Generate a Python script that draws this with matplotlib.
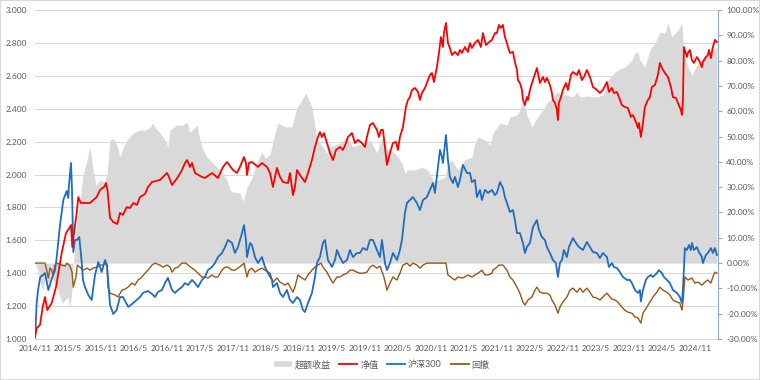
import matplotlib.pyplot as plt
import numpy as np
from matplotlib.lines import Line2D
from matplotlib.patches import Rectangle
from matplotlib.ticker import FuncFormatter

plt.rcParams['font.family'] = ['Lato', 'Noto Sans CJK SC', 'DejaVu Sans']

# x = months since 2014/11
# 净值 (left axis)
red = [(0, 1.012), (0.31, 1.067), (0.91, 1.085), (1.40, 1.195), (1.82, 1.255), (2.24, 1.176), (3.04, 1.219),
       (3.82, 1.316), (4.42, 1.438), (4.85, 1.523), (5.64, 1.644), (6.36, 1.681), (6.55, 1.693), (6.78, 1.559),
       (7.09, 1.644), (7.58, 1.766), (7.87, 1.863), (8.31, 1.827), (10.0, 1.827), (11.22, 1.863), (11.82, 1.906),
       (12.55, 1.924), (12.91, 1.948), (13.18, 1.906), (13.64, 1.736), (14.24, 1.711), (14.96, 1.699),
       (15.45, 1.766), (16.0, 1.754), (16.67, 1.802), (17.27, 1.796), (17.87, 1.827), (18.55, 1.815),
       (19.09, 1.863), (20.0, 1.881), (20.55, 1.924), (21.27, 1.954), (22.73, 1.967), (24.0, 2.009),
       (24.36, 1.985), (24.91, 1.936), (26.0, 1.985), (26.73, 2.027), (27.27, 2.070), (27.64, 2.088),
       (28.18, 2.046), (28.55, 2.070), (29.09, 2.009), (30.36, 1.985), (30.91, 1.979), (32.18, 2.009),
       (33.27, 1.979), (34.18, 2.046), (34.91, 2.076), (36.0, 2.027), (36.73, 2.009), (37.27, 2.046),
       (38.0, 2.106), (38.36, 2.070), (38.55, 1.997), (38.91, 2.070), (39.45, 2.076), (40.55, 2.046),
       (41.27, 2.070), (42.18, 2.046), (42.73, 2.009), (43.27, 1.924), (43.64, 1.985), (44.0, 2.040),
       (44.55, 1.985), (45.09, 1.954), (46.0, 1.948), (46.36, 2.009), (46.91, 1.875), (47.27, 1.924),
       (47.64, 2.027), (48.18, 1.997), (49.09, 1.954), (49.64, 2.009), (50.36, 2.088), (50.91, 2.167),
       (51.45, 2.228), (51.82, 2.258), (52.18, 2.228), (52.55, 2.252), (53.09, 2.191), (53.64, 2.131),
       (54.18, 2.088), (54.73, 2.149), (55.45, 2.167), (56.0, 2.149), (56.55, 2.191), (56.91, 2.228),
       (57.64, 2.252), (58.18, 2.191), (58.73, 2.210), (59.45, 2.191), (60.0, 2.167), (60.36, 2.228),
       (60.91, 2.301), (61.45, 2.313), (62.18, 2.271), (62.55, 2.228), (62.91, 2.271), (63.27, 2.271),
       (63.64, 2.167), (64.0, 2.058), (64.55, 2.131), (65.09, 2.191), (65.64, 2.198), (66.0, 2.149),
       (66.36, 2.228), (66.91, 2.289), (67.45, 2.410), (67.82, 2.453), (68.18, 2.471), (68.55, 2.514),
       (69.09, 2.526), (69.64, 2.502), (70.0, 2.453), (70.36, 2.495), (70.91, 2.526), (71.45, 2.574),
       (71.82, 2.605), (72.18, 2.617), (72.55, 2.562), (73.09, 2.653), (73.45, 2.739), (73.82, 2.836),
       (74.18, 2.775), (74.36, 2.860), (74.73, 2.921), (75.09, 2.799), (75.45, 2.769), (75.82, 2.726),
       (76.36, 2.745), (76.91, 2.726), (77.27, 2.757), (77.64, 2.739), (78.18, 2.775), (78.73, 2.745),
       (79.09, 2.799), (79.45, 2.769), (80.0, 2.799), (80.55, 2.818), (81.09, 2.775), (81.45, 2.860),
       (82.0, 2.787), (82.36, 2.799), (83.09, 2.818), (83.64, 2.860), (84.0, 2.860), (84.36, 2.909),
       (84.73, 2.891), (85.09, 2.909), (85.45, 2.836), (85.82, 2.799), (86.0, 2.775), (86.36, 2.739),
       (86.91, 2.745), (87.27, 2.684), (87.64, 2.635), (87.82, 2.574), (88.18, 2.556), (88.55, 2.514),
       (88.73, 2.453), (89.09, 2.422), (89.45, 2.471), (89.64, 2.453), (90.0, 2.514), (90.55, 2.574),
       (91.27, 2.647), (91.45, 2.617), (91.82, 2.556), (92.36, 2.593), (92.73, 2.562), (93.09, 2.587),
       (93.64, 2.544), (94.0, 2.495), (94.18, 2.453), (94.55, 2.435), (94.91, 2.392), (95.09, 2.331),
       (95.27, 2.435), (95.64, 2.471), (96.0, 2.514), (96.55, 2.556), (96.91, 2.514), (97.45, 2.605),
       (97.82, 2.623), (98.55, 2.605), (98.91, 2.635), (99.45, 2.574), (99.82, 2.593), (100.36, 2.635),
       (100.91, 2.593), (101.45, 2.532), (102.18, 2.514), (102.73, 2.495), (103.27, 2.514), (104.0, 2.562),
       (104.36, 2.502), (104.91, 2.526), (105.27, 2.495), (105.82, 2.502), (106.18, 2.471), (106.73, 2.422),
       (107.27, 2.410), (107.82, 2.404), (108.36, 2.350), (108.73, 2.362), (109.27, 2.319), (109.64, 2.283),
       (109.82, 2.313), (110.18, 2.228), (110.55, 2.313), (110.91, 2.410), (111.45, 2.453), (111.82, 2.471),
       (112.18, 2.532), (112.73, 2.544), (113.27, 2.605), (113.64, 2.678), (114.0, 2.647), (114.55, 2.617),
       (115.09, 2.593), (115.64, 2.532), (116.0, 2.471), (116.55, 2.465), (116.91, 2.435), (117.45, 2.392),
       (117.64, 2.362), (117.82, 2.453), (118.0, 2.775), (118.55, 2.714), (118.73, 2.739), (119.09, 2.757),
       (119.45, 2.696), (119.82, 2.678), (120.36, 2.714), (120.73, 2.696), (121.27, 2.653), (121.45, 2.684),
       (122.0, 2.714), (122.36, 2.726), (122.55, 2.757), (122.91, 2.708), (123.27, 2.775), (123.64, 2.818),
       (124.0, 2.806)]

# 沪深300 (left axis)
hs300 = [(0, 1.006), (0.31, 1.219), (0.55, 1.298), (0.96, 1.377), (1.45, 1.389), (1.82, 1.401), (2.42, 1.298),
         (3.04, 1.365), (3.64, 1.419), (3.95, 1.498), (4.55, 1.693), (5.15, 1.845), (5.76, 1.900), (6.05, 1.857),
         (6.18, 1.936), (6.55, 2.070), (6.73, 1.906), (6.96, 1.529), (7.27, 1.602), (7.64, 1.602), (8.05, 1.620),
         (8.49, 1.468), (8.73, 1.359), (9.09, 1.316), (9.69, 1.267), (10.31, 1.237), (10.91, 1.389),
         (11.51, 1.468), (12.13, 1.407), (12.73, 1.480), (13.09, 1.450), (13.64, 1.207), (14.24, 1.152),
         (14.85, 1.176), (15.45, 1.255), (16.0, 1.255), (16.96, 1.195), (17.87, 1.219), (18.49, 1.237),
         (19.09, 1.255), (19.64, 1.280), (20.55, 1.292), (21.27, 1.274), (21.82, 1.255), (22.36, 1.286),
         (23.09, 1.298), (23.64, 1.340), (24.18, 1.371), (24.91, 1.298), (25.45, 1.280), (26.0, 1.298),
         (26.73, 1.316), (27.27, 1.340), (27.82, 1.328), (28.55, 1.359), (29.09, 1.340), (29.64, 1.316),
         (30.36, 1.359), (30.91, 1.377), (31.45, 1.419), (32.18, 1.438), (32.73, 1.462), (33.27, 1.498),
         (34.0, 1.523), (34.55, 1.559), (35.09, 1.602), (35.82, 1.584), (36.36, 1.523), (36.91, 1.559),
         (37.64, 1.644), (38.0, 1.693), (38.36, 1.602), (38.55, 1.498), (39.09, 1.584), (39.45, 1.571),
         (40.0, 1.498), (40.55, 1.462), (41.27, 1.498), (41.82, 1.438), (42.36, 1.401), (43.09, 1.359),
         (43.27, 1.316), (44.0, 1.340), (44.55, 1.280), (45.09, 1.255), (45.82, 1.298), (46.36, 1.237),
         (46.91, 1.219), (47.64, 1.255), (48.18, 1.237), (48.73, 1.176), (49.09, 1.164), (49.64, 1.219),
         (50.36, 1.280), (50.91, 1.377), (51.27, 1.462), (51.82, 1.498), (52.36, 1.584), (52.73, 1.602),
         (53.27, 1.480), (54.0, 1.438), (54.55, 1.480), (54.91, 1.541), (55.45, 1.498), (56.0, 1.462),
         (56.73, 1.480), (57.27, 1.541), (57.82, 1.498), (58.55, 1.523), (59.09, 1.523), (59.64, 1.553),
         (60.36, 1.541), (60.91, 1.602), (61.45, 1.602), (62.18, 1.541), (62.73, 1.498), (63.09, 1.602),
         (63.64, 1.462), (64.0, 1.419), (64.55, 1.462), (65.09, 1.523), (65.82, 1.480), (66.36, 1.541),
         (66.73, 1.602), (67.27, 1.766), (67.64, 1.827), (68.18, 1.845), (68.73, 1.863), (69.45, 1.827),
         (70.0, 1.784), (70.55, 1.845), (71.27, 1.863), (71.82, 1.906), (72.36, 1.948), (72.73, 1.888),
         (73.27, 2.046), (73.64, 2.149), (74.0, 2.106), (74.18, 2.070), (74.73, 2.240), (75.09, 2.088),
         (75.45, 1.985), (76.0, 1.948), (76.36, 1.985), (76.91, 1.924), (77.27, 1.967), (77.82, 2.058),
         (78.55, 2.009), (79.09, 2.009), (79.45, 1.954), (80.0, 1.967), (80.36, 1.863), (80.91, 1.906),
         (81.27, 1.845), (81.82, 1.906), (82.36, 1.888), (83.09, 1.906), (83.64, 1.875), (84.0, 1.888),
         (84.55, 1.954), (85.09, 1.918), (85.45, 1.863), (85.82, 1.827), (86.36, 1.772), (86.91, 1.784),
         (87.27, 1.723), (87.64, 1.644), (88.18, 1.644), (88.73, 1.584), (89.09, 1.523), (89.45, 1.559),
         (90.0, 1.584), (90.55, 1.681), (91.27, 1.723), (91.64, 1.663), (92.18, 1.620), (92.73, 1.602),
         (93.09, 1.559), (93.64, 1.523), (94.18, 1.480), (94.73, 1.462), (95.09, 1.377), (95.45, 1.462),
         (95.82, 1.480), (96.18, 1.541), (96.73, 1.498), (97.09, 1.559), (97.82, 1.614), (98.36, 1.584),
         (98.91, 1.559), (99.64, 1.541), (100.36, 1.590), (100.91, 1.559), (101.45, 1.529), (102.18, 1.523),
         (102.73, 1.492), (103.27, 1.523), (104.0, 1.498), (104.36, 1.438), (104.91, 1.462), (105.27, 1.438),
         (105.82, 1.432), (106.36, 1.407), (106.91, 1.377), (107.64, 1.359), (108.18, 1.359), (108.55, 1.340),
         (109.09, 1.298), (109.64, 1.280), (110.0, 1.298), (110.18, 1.228), (110.55, 1.298), (111.09, 1.359),
         (111.45, 1.377), (112.0, 1.389), (112.36, 1.377), (113.09, 1.401), (113.45, 1.419), (114.0, 1.401),
         (114.36, 1.377), (114.91, 1.359), (115.45, 1.340), (116.0, 1.298), (116.73, 1.280), (117.27, 1.255),
         (117.64, 1.219), (117.82, 1.298), (118.18, 1.553), (118.55, 1.541), (118.91, 1.571), (119.27, 1.541),
         (119.45, 1.584), (119.82, 1.541), (120.36, 1.559), (120.73, 1.529), (121.27, 1.498), (121.45, 1.462),
         (122.0, 1.511), (122.36, 1.523), (122.91, 1.553), (123.27, 1.523), (123.64, 1.553), (124.0, 1.511)]

# 回撤 (right axis, %)
drawdown = [(0, 0), (1.82, 0), (2.13, -2.8), (2.42, -5.9), (2.73, -2.0), (3.04, -2.8), (3.27, -4.7), (3.64, -0.8),
            (3.95, 0), (4.91, -0.8), (5.45, -1.2), (5.82, 0), (6.36, -1.2), (6.73, -3.6), (6.96, -9.5),
            (7.45, -5.5), (7.69, -0.8), (8.18, -1.6), (8.73, -2.8), (9.45, -2.0), (10.0, -2.8), (10.55, -2.0),
            (11.27, -1.6), (11.82, -0.8), (12.36, -0.8), (12.73, 0), (13.09, -1.2), (13.27, -9.5), (13.64, -11.9),
            (14.55, -12.6), (15.09, -13.4), (15.82, -10.7), (16.36, -10.3), (16.91, -9.5), (17.64, -7.9),
            (18.18, -8.7), (18.73, -6.7), (19.45, -5.5), (20.0, -4.0), (20.55, -2.8), (21.27, -0.8), (21.82, 0),
            (22.73, -0.8), (23.27, -1.6), (24.0, -0.8), (24.55, -1.6), (24.91, -3.6), (25.45, -2.0), (26.0, -1.6),
            (26.73, 0), (27.45, 0), (27.82, -0.8), (28.55, -2.0), (29.09, -2.8), (29.64, -4.0), (30.36, -5.5),
            (30.91, -5.5), (31.45, -5.9), (32.18, -4.7), (32.73, -5.5), (33.27, -5.5), (34.0, -2.8), (34.55, -1.6),
            (35.09, -1.6), (35.82, -2.8), (36.36, -2.8), (36.91, -2.0), (37.64, -0.8), (38.0, 0), (38.55, -5.5),
            (38.91, -2.8), (39.45, -2.0), (40.0, -3.6), (40.55, -2.8), (41.27, -2.0), (41.82, -2.8), (42.73, -4.0),
            (43.27, -7.5), (44.0, -5.9), (44.55, -7.5), (45.45, -8.7), (46.0, -7.9), (46.91, -11.5), (47.27, -9.5),
            (47.82, -4.7), (48.55, -5.9), (49.09, -6.7), (49.64, -4.7), (50.36, -2.8), (50.91, -1.6), (51.45, -0.8),
            (52.0, 0), (52.36, -1.6), (53.09, -3.6), (53.64, -5.9), (54.18, -7.9), (54.91, -5.5), (55.45, -5.5),
            (56.0, -4.7), (56.73, -4.0), (57.27, -2.8), (57.82, -2.8), (58.55, -3.6), (59.09, -4.0), (59.64, -4.0),
            (60.36, -3.6), (60.91, -1.6), (61.45, -0.8), (62.18, -2.0), (62.73, -1.2), (63.45, -5.5), (64.0, -10.7),
            (64.55, -7.9), (65.09, -5.5), (65.82, -6.7), (66.36, -4.0), (66.91, -0.8), (67.64, 0), (68.18, -1.2),
            (68.73, 0), (69.45, -0.8), (70.0, -2.0), (70.55, -0.8), (71.27, 0), (74.73, 0), (75.09, -4.7),
            (75.82, -5.9), (76.36, -6.7), (76.91, -5.5), (77.64, -5.9), (78.18, -5.5), (78.73, -4.7), (79.45, -5.5),
            (80.0, -4.7), (80.55, -4.0), (81.27, -2.8), (81.82, -4.7), (82.36, -4.7), (83.09, -4.0), (83.27, -2.8),
            (84.0, -1.6), (84.36, -0.8), (85.09, -0.8), (85.82, -2.8), (86.36, -5.5), (86.91, -6.7), (87.64, -9.5),
            (88.18, -11.9), (88.73, -15.4), (89.09, -16.6), (89.64, -14.6), (90.36, -13.4), (90.91, -10.7),
            (91.27, -9.5), (91.82, -11.5), (92.36, -11.9), (93.09, -11.9), (93.64, -12.6), (94.0, -14.6),
            (94.55, -16.6), (95.09, -19.8), (95.45, -17.4), (96.0, -15.4), (96.73, -13.4), (97.27, -10.7),
            (97.82, -9.9), (98.55, -11.5), (99.09, -9.9), (99.64, -11.5), (100.36, -9.9), (100.91, -11.5),
            (101.45, -13.4), (102.18, -13.8), (102.73, -14.6), (103.27, -13.4), (104.0, -11.9), (104.55, -13.4),
            (104.91, -14.2), (105.45, -14.6), (106.0, -15.4), (106.73, -17.4), (107.27, -18.6), (107.82, -19.4),
            (108.55, -19.8), (109.09, -21.3), (109.64, -21.7), (110.18, -23.7), (110.55, -19.8), (111.27, -17.4),
            (111.82, -15.4), (112.36, -13.4), (113.09, -11.5), (113.64, -9.5), (114.18, -10.7), (114.91, -11.5),
            (115.45, -12.6), (116.0, -14.6), (116.73, -15.4), (117.27, -15.8), (117.64, -18.6), (117.82, -15.8),
            (118.18, -5.5), (118.73, -6.7), (119.45, -5.9), (120.0, -7.9), (120.55, -7.5), (121.27, -8.7),
            (121.82, -7.5), (122.36, -6.7), (122.91, -7.9), (123.27, -5.5), (123.64, -3.6), (124.0, -4.0)]

# 超额收益 (right axis, %)
excess = [(0, 0), (0.55, -2.8), (0.91, -7.9), (1.45, -10.7), (1.82, -5.9), (2.36, -7.9), (3.09, -5.5),
          (3.64, -7.9), (4.18, -10.7), (4.91, -15.8), (5.45, -14.6), (6.0, -13.4), (6.36, -17.4), (6.73, -10.7),
          (7.09, 3.2), (7.64, 17.0), (8.18, 24.9), (8.73, 34.8), (9.45, 40.7), (10.0, 45.9), (10.55, 36.8),
          (11.09, 30.8), (11.82, 32.8), (12.55, 32.0), (13.09, 34.8), (13.64, 48.6), (14.18, 49.4),
          (14.91, 46.6), (15.45, 41.9), (16.0, 45.5), (16.73, 48.6), (17.82, 51.4), (19.09, 52.6),
          (20.18, 52.6), (20.91, 53.8), (21.45, 55.3), (22.18, 52.6), (22.73, 51.4), (23.64, 48.6),
          (24.18, 45.9), (24.55, 52.6), (25.82, 54.5), (26.91, 54.5), (27.64, 55.7), (28.18, 51.8),
          (29.45, 54.5), (30.0, 48.6), (30.55, 44.7), (31.27, 41.9), (31.82, 40.7), (33.09, 37.9),
          (33.64, 36.8), (34.91, 32.8), (35.45, 28.9), (36.0, 28.1), (37.27, 27.7), (37.82, 24.1),
          (38.55, 30.0), (39.45, 33.6), (40.55, 40.7), (41.27, 43.9), (41.82, 41.5), (42.73, 42.7),
          (43.64, 51.4), (44.18, 55.3), (45.45, 53.8), (46.73, 53.8), (47.64, 61.7), (48.18, 63.2),
          (49.27, 67.2), (50.36, 61.7), (51.27, 48.6), (51.82, 47.4), (53.09, 43.5), (53.64, 45.9),
          (55.45, 47.4), (56.73, 49.8), (57.82, 45.9), (59.64, 47.4), (60.91, 48.6), (62.18, 43.5),
          (63.09, 49.8), (64.18, 44.7), (65.45, 43.5), (66.73, 39.5), (67.27, 35.6), (67.82, 36.8),
          (69.09, 36.8), (70.36, 37.9), (71.45, 36.8), (72.73, 31.6), (73.27, 32.8), (74.55, 34.0),
          (75.09, 39.5), (75.82, 40.7), (76.91, 36.8), (78.18, 40.7), (79.45, 41.9), (80.0, 47.4),
          (80.55, 49.8), (81.82, 48.6), (82.73, 46.6), (83.27, 51.4), (84.55, 55.3), (85.82, 54.5),
          (86.36, 57.7), (87.64, 58.5), (88.18, 60.5), (88.73, 64.4), (89.45, 58.5), (90.36, 53.8),
          (91.27, 57.3), (92.36, 60.5), (93.09, 63.2), (94.18, 65.6), (94.91, 67.6), (95.45, 67.0),
          (96.73, 66.4), (97.82, 65.6), (98.55, 67.6), (99.09, 65.6), (100.36, 66.0), (102.18, 65.6),
          (103.27, 66.4), (104.18, 72.3), (105.45, 75.5), (106.0, 76.3), (107.27, 77.5), (108.55, 80.2),
          (109.09, 83.0), (109.64, 83.4), (110.0, 80.2), (110.91, 77.5), (111.82, 84.2), (112.73, 87.0),
          (113.64, 91.3), (114.55, 90.9), (115.09, 94.9), (115.82, 89.3), (116.91, 92.1), (117.64, 94.9),
          (118.0, 82.2), (118.73, 77.5), (119.45, 74.3), (120.18, 77.5), (121.45, 81.0), (122.73, 83.0),
          (124.0, 85.4)]

tick_months = list(range(0, 121, 6))
tick_labels = ["2014/11", "2015/5", "2015/11", "2016/5", "2016/11", "2017/5", "2017/11", "2018/5",
               "2018/11", "2019/5", "2019/11", "2020/5", "2020/11", "2021/5", "2021/11", "2022/5",
               "2022/11", "2023/5", "2023/11", "2024/5", "2024/11"]

GRAY_TXT = "#595959"
C_AREA = "#D9D9D9"
C_RED = "#FF0000"
C_BLUE = "#1F6CC1"
C_BROWN = "#9C5519"

fig = plt.figure(figsize=(7.6, 3.8), dpi=100)
ax = fig.add_axes([35 / 760, 41 / 380, 683 / 760, 329 / 380])
ax2 = ax.twinx()   # right scale: area + drawdown
ax3 = ax.twinx()   # left scale again, on top: nav + hs300

ax.set_xlim(0, 124.2)
ax.set_ylim(1, 3)
ax2.set_ylim(-30, 100)
ax3.set_ylim(1, 3)

ex_m, ex_v = zip(*excess)
ax2.fill_between(ex_m, 0, ex_v, color=C_AREA, lw=0)
dd_m, dd_v = zip(*drawdown)
ax2.plot(dd_m, dd_v, color=C_BROWN, lw=1.0)

hs_m, hs_v = zip(*hs300)
ax3.plot(hs_m, hs_v, color=C_BLUE, lw=1.3)
r_m, r_v = zip(*red)
ax3.plot(r_m, r_v, color=C_RED, lw=1.3)

# grid + axes look
ax.set_yticks(np.arange(1, 3.001, 0.2))
ax.yaxis.set_major_formatter(FuncFormatter(lambda v, p: f"{v:.3f}"))
ax.yaxis.grid(True, color="#D9D9D9", lw=0.8)
ax.set_axisbelow(True)
ax.set_xticks(tick_months)
ax.set_xticklabels(tick_labels)
ax.tick_params(axis="both", length=0, labelsize=6, labelcolor=GRAY_TXT)
ax.tick_params(axis="x", pad=4)
ax.tick_params(axis="y", pad=6)
for s in ["top", "left", "right"]:
    ax.spines[s].set_visible(False)
ax.spines["bottom"].set_color("#D9D9D9")

ax2.set_yticks(range(-30, 101, 10))
ax2.yaxis.set_major_formatter(FuncFormatter(lambda v, p: f"{v:.2f}%"))
ax2.tick_params(axis="y", length=3, color="#8EA9DB", labelsize=6, labelcolor=GRAY_TXT, pad=3)
for s in ["top", "left", "bottom"]:
    ax2.spines[s].set_visible(False)
ax2.spines["right"].set_color("#8EA9DB")

ax3.set_yticks([])
for s in ax3.spines.values():
    s.set_visible(False)

handles = [Line2D([], [], color=C_AREA, lw=4, solid_capstyle="butt"),
           Line2D([], [], color=C_RED, lw=1.3),
           Line2D([], [], color=C_BLUE, lw=1.3),
           Line2D([], [], color=C_BROWN, lw=1.3)]
labels = ["超额收益", "净值", "沪深300", "回撤"]
fig.legend(handles, labels, loc="center", bbox_to_anchor=(0.502, 0.04), ncol=4, frameon=False,
           fontsize=6.5, handlelength=2.0, handletextpad=0.3, columnspacing=1.0, labelcolor=GRAY_TXT)

fig.patches.append(Rectangle((0, 0), 1, 1, transform=fig.transFigure, fill=False,
                             edgecolor="#D9D9D9", lw=1.5))

fig.savefig("out.png", dpi=100)
